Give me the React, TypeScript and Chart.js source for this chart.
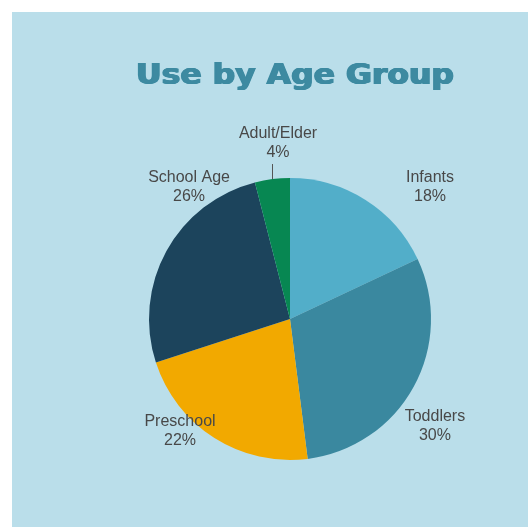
import React, { useEffect, useRef } from "react";
import { Chart, registerables } from "chart.js";

Chart.register(...registerables);

const title = "Use by Age Group";
const categories = ["Infants", "Toddlers", "Preschool", "School Age", "Adult/Elder"];
const shares = [18, 30, 22, 26, 4];
const colors = ["#52aec9", "#3a889f", "#f2a900", "#1c445c", "#078752"];
// label centre positions relative to pie centre, as fractions of the radius
const labelPosX = [0.993, 1.028, -0.78, -0.716, -0.085];
const labelPosY = [-0.936, 0.759, 0.794, -0.936, -1.248];
const leaderLine = [false, false, false, false, true];

const TITLE_FONT = "bold 28px 'DejaVu Sans'";
const LABEL_FONT = "16px 'Liberation Sans'";

const labelPlugin = {
  id: "pieLabels",
  afterDraw(chart: any) {
    const ctx = chart.ctx;
    const meta = chart.getDatasetMeta(0);
    const arc0 = meta.data[0];
    if (!arc0) return;
    const cx = arc0.x;
    const cy = arc0.y;
    const r = arc0.outerRadius;
    ctx.save();
    // title (heavy, wide, like Arial Black)
    ctx.font = TITLE_FONT;
    const w = ctx.measureText(title).width;
    const targetW = 318;
    ctx.translate(cx + 5, 72);
    ctx.scale(targetW / w, 1);
    ctx.fillStyle = "#3d8aa1";
    ctx.textAlign = "center";
    ctx.textBaseline = "alphabetic";
    for (const dx of [-0.8, -0.3, 0.3, 0.8]) {
      ctx.fillText(title, dx, 0);
    }
    ctx.restore();

    ctx.save();
    ctx.font = LABEL_FONT;
    ctx.fillStyle = "#484848";
    ctx.textAlign = "center";
    ctx.textBaseline = "middle";
    meta.data.forEach((arc: any, i: number) => {
      const lx = cx + labelPosX[i] * r;
      const ly = cy + labelPosY[i] * r;
      ctx.fillText(categories[i], lx, ly - 9);
      ctx.fillText(shares[i] + "%", lx, ly + 10);
      if (leaderLine[i]) {
        const mid = (arc.startAngle + arc.endAngle) / 2;
        const ex = cx + Math.cos(mid) * r;
        const ey = cy + Math.sin(mid) * r;
        ctx.strokeStyle = "#555555";
        ctx.lineWidth = 1;
        ctx.beginPath();
        ctx.moveTo(Math.round(ex) + 0.5, ly + 21);
        ctx.lineTo(Math.round(ex) + 0.5, ey);
        ctx.stroke();
      }
    });
    ctx.restore();
  },
};

export default function App() {
  const ref = useRef<HTMLCanvasElement>(null);
  useEffect(() => {
    document.body.style.margin = "0";
    let chart: Chart | null = null;
    let cancelled = false;
    const make = () => {
      if (cancelled || !ref.current) return;
      chart = new Chart(ref.current, {
        type: "pie",
        data: {
          labels: categories,
          datasets: [
            {
              data: shares,
              backgroundColor: colors,
              borderWidth: 0,
            },
          ],
        },
        options: {
          animation: false,
          responsive: false,
          maintainAspectRatio: false,
          layout: { padding: { left: 137, right: 97, top: 166, bottom: 67 } },
          plugins: {
            legend: { display: false },
            tooltip: { enabled: false },
            title: { display: false },
          },
        },
        plugins: [labelPlugin],
      });
    };
    Promise.all([document.fonts.load(TITLE_FONT), document.fonts.load(LABEL_FONT)])
      .catch(() => undefined)
      .then(make);
    return () => {
      cancelled = true;
      if (chart) chart.destroy();
    };
  }, []);
  return (
    <div style={{ position: "relative", width: 528, height: 527, background: "#ffffff", overflow: "hidden" }}>
      <div style={{ position: "absolute", left: 12, top: 12, width: 516, height: 515, background: "#badeea" }}>
        <canvas ref={ref} width={516} height={515} style={{ display: "block", width: 516, height: 515 }} />
      </div>
    </div>
  );
}
